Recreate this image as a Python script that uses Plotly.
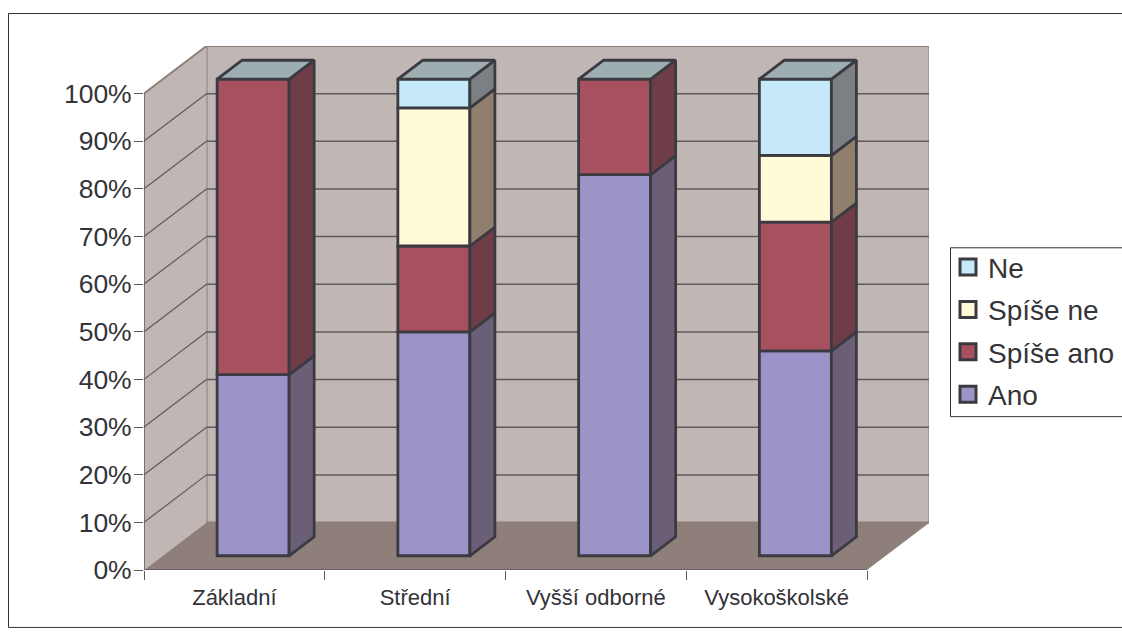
import plotly.graph_objects as go

categories = ["Základní", "Střední", "Vyšší odborné", "Vysokoškolské"]
series_names = ["Ano", "Spíše ano", "Spíše ne", "Ne"]
ano = [38, 47, 80, 43]
spise_ano = [62, 18, 20, 27]
spise_ne = [0, 29, 0, 14]
ne = [0, 6, 0, 16]
y_ticks = [0, 10, 20, 30, 40, 50, 60, 70, 80, 90, 100]
y_tick_labels = ["0%", "10%", "20%", "30%", "40%", "50%", "60%", "70%", "80%", "90%", "100%"]

series_values = [ano, spise_ano, spise_ne, ne]
front_colors = ["#9C93C8", "#A65060", "#FFFAD8", "#C6E9FA"]
side_colors = ["#6B5F78", "#6F3D48", "#8F7F6C", "#7C8084"]
top_color = "#9EADB0"
edge = "#3A3A40"
wall = "#C0B6B3"
floor_c = "#8E7F7A"
grid_c = "#5F5A5A"
text_c = "#333338"

# plot area geometry in pixels
L, R, T, B = 144.0, 929.0, 45.5, 570.0
W, H = 1122, 640
cat_px = 180.75
val_px = 4.77
DX = 62.5 / cat_px          # full chart depth, in x-axis units
DY = 47.5 / val_px          # full chart depth, in y-axis units
BAR_W = 72 / cat_px
x_range = [0, (R - L) / cat_px]
y_range = [0, (B - T) / val_px]
n = len(categories)
bx = [i + 0.5 + 0.3 * DX for i in range(n)]   # bar centres (shifted into the depth)

fig = go.Figure()

shapes = []
# walls and floor
shapes.append(dict(type="path", layer="below", xref="x", yref="y", fillcolor=wall, line=dict(color=floor_c, width=2),
                   path=f"M{DX},{DY} L{n+DX},{DY} L{n+DX},{100+DY} L{DX},{100+DY} Z"))
shapes.append(dict(type="path", layer="below", xref="x", yref="y", fillcolor=wall, line=dict(color=wall, width=0),
                   path=f"M0,0 L{DX},{DY} L{DX},{100+DY} L0,100 Z"))
shapes.append(dict(type="line", layer="below", xref="x", yref="y", x0=0, y0=100, x1=DX, y1=100 + DY,
                   line=dict(color=floor_c, width=2)))
shapes.append(dict(type="path", layer="below", xref="x", yref="y", fillcolor=floor_c, line=dict(color=floor_c, width=0),
                   path=f"M0,0 L{n},0 L{n+DX},{DY} L{DX},{DY} Z"))
# gridlines
for v in y_ticks[1:-1]:
    shapes.append(dict(type="line", layer="below", xref="x", yref="y", x0=0, y0=v, x1=DX, y1=v + DY,
                       line=dict(color=grid_c, width=1.2)))
    shapes.append(dict(type="line", layer="below", xref="x", yref="y", x0=DX, y0=v + DY, x1=n + DX, y1=v + DY,
                       line=dict(color=grid_c, width=1.5)))
# axis lines
shapes.append(dict(type="line", layer="below", xref="x", yref="y", x0=0, y0=0, x1=0, y1=100,
                   line=dict(color=grid_c, width=1.5)))
shapes.append(dict(type="line", layer="below", xref="x", yref="y", x0=0, y0=0, x1=n, y1=0,
                   line=dict(color=grid_c, width=1.5)))
# outer frame
shapes.append(dict(type="rect", layer="below", xref="paper", yref="paper",
                   x0=(8.5 - L) / (R - L), x1=(W + 5 - L) / (R - L),
                   y0=(B - 627.5) / (B - T), y1=(B - 13) / (B - T),
                   line=dict(color="#333333", width=1), fillcolor="rgba(0,0,0,0)"))
# legend box
shapes.append(dict(type="rect", layer="above", xref="paper", yref="paper",
                   x0=(950.5 - L) / (R - L), x1=(W + 5 - L) / (R - L),
                   y0=(B - 416.5) / (B - T), y1=(B - 247.5) / (B - T),
                   line=dict(color="#333333", width=1), fillcolor="rgba(0,0,0,0)"))

# front faces
base0 = 0.3 * DY
cum = [base0] * n
bases_by_series = []
for name, vals, col in zip(series_names, series_values, front_colors):
    bases_by_series.append(list(cum))
    fig.add_trace(go.Bar(
        x=bx, y=[v if v else None for v in vals], base=list(cum), width=BAR_W,
        marker=dict(color=col, line=dict(color=edge, width=2.8)),
        name=name, showlegend=False, hoverinfo="y+name",
    ))
    cum = [c + v for c, v in zip(cum, vals)]

# side faces
sx, sy = 0.4 * DX, 0.4 * DY
for vals, bases, col in zip(series_values, bases_by_series, side_colors):
    for i in range(n):
        if not vals[i]:
            continue
        x0 = bx[i] + BAR_W / 2
        b, t = bases[i], bases[i] + vals[i]
        fig.add_trace(go.Scatter(
            x=[x0, x0 + sx, x0 + sx, x0, x0], y=[b, b + sy, t + sy, t, b],
            mode="lines", fill="toself", fillcolor=col, line=dict(color=edge, width=2.8),
            showlegend=False, hoverinfo="skip"))
# top faces
for i in range(n):
    xl, xr = bx[i] - BAR_W / 2, bx[i] + BAR_W / 2
    t = cum[i]
    fig.add_trace(go.Scatter(
        x=[xl, xr, xr + sx, xl + sx, xl], y=[t, t, t + sy, t + sy, t],
        mode="lines", fill="toself", fillcolor=top_color, line=dict(color=edge, width=2.8),
        showlegend=False, hoverinfo="skip"))

# legend entries, top to bottom: Ne ... Ano
for name, col in zip(series_names[::-1], front_colors[::-1]):
    fig.add_trace(go.Scatter(
        x=[None], y=[None], mode="markers", name=name, legendgroup=name,
        marker=dict(symbol="square", size=16, color=col, line=dict(color=edge, width=3))))

fig.update_layout(
    width=W, height=640,
    margin=dict(l=L, r=W - R, t=T, b=640 - B, pad=0, autoexpand=False),
    paper_bgcolor="white", plot_bgcolor="rgba(0,0,0,0)",
    barmode="overlay", shapes=shapes,
    font=dict(family="Liberation Sans", color=text_c),
    xaxis=dict(range=x_range, tickvals=[i + 0.5 for i in range(n)], ticktext=categories,
               showgrid=False, zeroline=False, showline=False,
               ticks="outside", ticklen=8, tickcolor="rgba(0,0,0,0)",
               tickfont=dict(size=22),
               minor=dict(ticks="outside", ticklen=9, tick0=0, dtick=1, tickcolor=grid_c, tickwidth=1.2, showgrid=False)),
    yaxis=dict(range=y_range, tickvals=y_ticks, ticktext=y_tick_labels,
               showgrid=False, zeroline=False, showline=False,
               ticks="outside", ticklen=9, tickcolor=grid_c, tickwidth=1.2,
               ticklabelstandoff=-3, tickfont=dict(size=26.5)),
    legend=dict(x=(948 - L) / (R - L), xanchor="left", y=(B - 242) / (B - T), yanchor="top",
                borderwidth=0, bgcolor="rgba(0,0,0,0)",
                traceorder="grouped", tracegroupgap=3,
                font=dict(size=28, color=text_c), itemclick=False, itemdoubleclick=False),
)

fig.write_html("out.html", config=dict(displayModeBar=False),
               post_script="document.body.style.margin='0';")
